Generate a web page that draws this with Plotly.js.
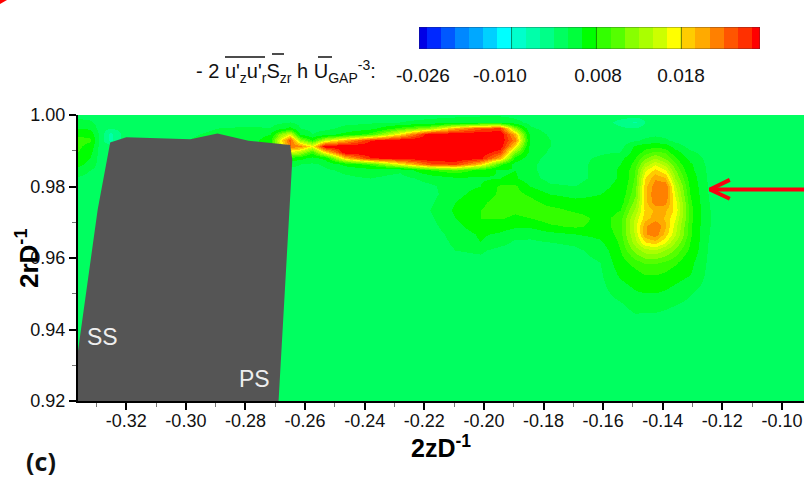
<!DOCTYPE html>
<html><head><meta charset="utf-8">
<script src="https://cdn.plot.ly/plotly-3.0.1.min.js"></script>
<style>html,body{margin:0;padding:0;background:#fff;overflow:hidden}#p{width:804px;height:478px}</style>
</head><body><div id="p"></div>
<script>
// axial position 2z/D
const xCols=[-0.3361,-0.3321,-0.3287,-0.3254,-0.3203,-0.2784,-0.2717,-0.2684,-0.2650,-0.2617,-0.2576,-0.2533,-0.2466,-0.2382,-0.2281,-0.2181,-0.2097,-0.2013,-0.1946,-0.1896,-0.1845,-0.1778,-0.1694,-0.1610,-0.1543,-0.1493,-0.1460,-0.1426,-0.1392,-0.1359,-0.1309,-0.1248,-0.1191,-0.0926];
// radial position 2r/D, top to bottom
const yRows=[1.0,.99805,.99637,.9947,.99302,.99135,.98967,.988,.98632,.98465,.98242,.98018,.97795,.97572,.97349,.97125,.96902,.96679,.96456,.96232,.95897,.95534,.95116,.94697,.94279,.92];
// field values in units of 1e-3, one row per yRows entry
const zRows=[
[1,.7,.5,.5,.5,.5,.5,.5,.6,.6,.5,.5,.5,.6,.8,1,1.2,1.5,1.5,1,.6,.5,.5,.5,.5,.5,.5,.5,.5,.5,.5,.5,.5,.5],
[3,2.5,.5,0,.5,.8,1,1.5,2,1,.7,.7,1,1.5,2,3,4,5,5,3,1,.5,.5,.5,-2,-4.5,-1,.5,.5,.5,.5,.5,.5,.5],
[5,4.5,.5,-1,.5,2.5,2,4,6,2,1,1,3,4,9,13,20,24,25,12,2.5,.8,.5,.5,-.5,-1,.3,.5,.5,.5,.5,.5,.5,.5],
[7.5,7,1,-5,.5,3,5,12,16,5,2,4,6,9,18,28,28,28,28,20,4,1.5,.5,.5,.5,.8,1.2,1.5,1.2,.8,.5,.5,.5,.5],
[9,8.5,1,-5,.5,3.5,7,17,24,13,8,15,20,26,28,28,28,28,28,22,5,2,.5,.5,.5,1.5,2.5,3,2.5,1.2,.5,.5,.5,.5],
[8.5,7,.8,.5,.5,3,7,15,23,22,17,28,28,28,28,28,28,28,28,18,4,2,.5,.7,.8,5.5,7,7.5,7,3.5,1,.6,.5,.5],
[8,6,.5,.5,.5,.5,.5,5,16,14,9,18,28,28,28,28,28,28,25,12,4,1.5,1,1.5,2,6.5,9,10,9.5,6.5,2.5,.8,.5,.5],
[7,5,.5,.5,.5,.5,.5,3,7,6,4,6,19,26,27,28,28,27,20,7,3,1,1,2.5,4,8,11,13,11,8.5,4,1,.5,.5],
[6,4,.5,.5,.5,.5,.5,1,3,2,1.5,2.5,6,9,17,24,25,19,9,4,2.5,1,1,3,5,9,13.5,16,14,10,5.5,1.2,.5,.5],
[4,2,.5,.5,.5,.5,.5,.5,1,1,1,1.5,2.5,3.5,2.5,8,10,7,4.5,5,2.5,1,1,3,5.5,9.7,16,18.5,16.5,11.5,6,1.4,.5,.5],
[1.5,.7,.5,.5,.5,.5,.5,.5,.5,.5,.5,1,1.5,2,1,3,4.5,4.5,5,5.5,3,1,1,3,5.5,10,18,21,20,13,7,1.6,.5,.5],
[.8,.5,.5,.5,.5,.5,.5,.5,.5,.5,.5,.5,.8,1,.5,1.5,3.5,5,8.5,8.5,5,2.5,2,4,6,10.5,19,22.5,23,15,7.5,1.8,.5,.5],
[.5,.5,.5,.5,.5,.5,.5,.5,.5,.5,.5,.5,.5,.5,.5,1,4,6.5,8.5,9,7.5,5,4,5,6.5,11,19,23,23,16,8,2,.5,.5],
[.5,.5,.5,.5,.5,.5,.5,.5,.5,.5,.5,.5,.5,.5,.5,1.5,5,7.5,9,9,9,7,6,6,7,12,19,22.5,22,17,8.5,2.1,.5,.5],
[.5,.5,.5,.5,.5,.5,.5,.5,.5,.5,.5,.5,.5,.5,.5,2,5.5,8,9,8.5,9,9,7.5,6.5,8,13.5,18.5,20,20,17.5,9,2.2,.5,.5],
[.5,.5,.5,.5,.5,.5,.5,.5,.5,.5,.5,.5,.5,.5,.5,1.5,5,8,8.2,7.5,8,9.5,9.5,7,9,15,19,20.5,19.5,16.5,9,2.2,.5,.5],
[.5,.5,.5,.5,.5,.5,.5,.5,.5,.5,.5,.5,.5,.5,.5,1,4,7,6.5,5.5,5.5,7.5,8.5,7,9,15.5,21,23,20,15.5,8.5,2.2,.5,.5],
[.5,.5,.5,.5,.5,.5,.5,.5,.5,.5,.5,.5,.5,.5,.5,.7,3,5.5,4.5,3,2.8,4,5,6,9,15,21,22.5,19,15,8.5,2.1,.5,.5],
[.5,.5,.5,.5,.5,.5,.5,.5,.5,.5,.5,.5,.5,.5,.5,.5,2.5,5,3,1.5,1.5,2,2.5,4.5,8.5,14,18,19,16.5,13,8,2,.5,.5],
[.5,.5,.5,.5,.5,.5,.5,.5,.5,.5,.5,.5,.5,.5,.5,.5,2,2.5,1,1,1,1,1.5,3,8,12,14,14.5,13,11,7.5,1.8,.5,.5],
[.5,.5,.5,.5,.5,.5,.5,.5,.5,.5,.5,.5,.5,.5,.5,.5,.8,1,.5,.5,.5,.5,1,2,7,9,10,10,9.5,8.5,6,1.5,.5,.5],
[.5,.5,.5,.5,.5,.5,.5,.5,.5,.5,.5,.5,.5,.5,.5,.5,.5,.5,.5,.5,.5,.5,.5,1.5,5.5,7,8,8,7.5,6.5,5,1.2,.5,.5],
[.5,.5,.5,.5,.5,.5,.5,.5,.5,.5,.5,.5,.5,.5,.5,.5,.5,.5,.5,.5,.5,.5,.5,1,3.5,5,5.5,5.5,5,4,2.5,.8,.5,.5],
[.5,.5,.5,.5,.5,.5,.5,.5,.5,.5,.5,.5,.5,.5,.5,.5,.5,.5,.5,.5,.5,.5,.5,.5,1.5,3,3,3,2.5,2,1.2,.5,.5,.5],
[.5,.5,.5,.5,.5,.5,.5,.5,.5,.5,.5,.5,.5,.5,.5,.5,.5,.5,.5,.5,.5,.5,.5,.5,.5,1.2,1,1,.8,.6,.5,.5,.5,.5],
[.5,.5,.5,.5,.5,.5,.5,.5,.5,.5,.5,.5,.5,.5,.5,.5,.5,.5,.5,.5,.5,.5,.5,.5,.5,.5,.5,.5,.5,.5,.5,.5,.5,.5]
];
// colour bands: limits in units of 1e-3, and colours
const bandLimits=[-28.7,-26,-23.5,-21,-18.5,-16,-13,-10,-7,-4,-1,2,5,8,9.7,11.3,13,14.7,16.3,18,19.7,21.3,23,24.7,26.3,28];
const bandColors=['#0000e6','#0028ff','#0058ff','#0088ff','#00a8ff','#00d0ff','#00ffff','#00ffcc','#00ffaa','#00ff88','#00ff60','#00ff3c','#00ff00','#33ff00','#55ff00','#88ff00','#aaff00','#ccff00','#ffff00','#ffcc00','#ffaa00','#ff8000','#ff5500','#ff3000','#ff0000'];
const barEdges=[0,.54,1.54,2.54,3.54,4.54,5.54,6.54,7.54,8.54,9.54,10.54,11.54,12.54,13.54,14.54,15.54,16.54,17.54,18.54,19.54,20.54,21.54,22.54,23.54,24.1];
const barLines=[6.54,12.54,18.54];
const barTickPos=[.28,5.72,12.65,18.52];
const barTickText=['-0.026','-0.010','0.008','0.018'];
// axis ticks
const xTicks=[-0.32,-0.30,-0.28,-0.26,-0.24,-0.22,-0.20,-0.18,-0.16,-0.14,-0.12,-0.10];
const xTickText=['-0.32','-0.30','-0.28','-0.26','-0.24','-0.22','-0.20','-0.18','-0.16','-0.14','-0.12','-0.10'];
const yTicks=[0.92,0.94,0.96,0.98,1.00];
const yTickText=['0.92','0.94','0.96','0.98','1.00'];
// blade section outline
const bladeX=[-0.3254,-0.32,-0.2985,-0.2894,-0.2790,-0.2650,-0.2643,-0.2689,-0.3362,-0.3362,-0.3296,-0.3254];
const bladeY=[0.9923,0.9938,0.9932,0.9948,0.9928,0.9916,0.9874,0.92,0.92,0.934,0.9735,0.9923];
// red arrow
const arrowX=[-0.0926,-0.1242,null,-0.1175,-0.1242,-0.1175];
const arrowY=[0.97915,0.97915,null,0.98186,0.97915,0.97656];

const lo=bandLimits[0],hi=bandLimits[bandLimits.length-1];
const cs=[];
bandColors.forEach((c,i)=>{cs.push([(bandLimits[i]-lo)/(hi-lo),c]);cs.push([(bandLimits[i+1]-lo)/(hi-lo),c]);});
const mids=bandColors.map((c,i)=>(bandLimits[i]+bandLimits[i+1])/2);
const W=804,H=478,F='"Liberation Sans",Arial,sans-serif';
const axisFont={family:F,size:18,color:'#111'};

const traces=[
{type:'heatmap',x:xCols,y:yRows.slice().reverse(),z:zRows.slice().reverse(),zsmooth:'best',colorscale:cs,zmin:lo,zmax:hi,showscale:false,hoverinfo:'skip'},
{type:'scatter',mode:'lines',x:bladeX,y:bladeY,fill:'toself',fillcolor:'#555555',line:{width:0,color:'#555555'},hoverinfo:'skip',showlegend:false},
{type:'scatter',mode:'lines',x:arrowX,y:arrowY,line:{color:'#fa0010',width:4},hoverinfo:'skip',showlegend:false},
{type:'heatmap',xaxis:'x2',yaxis:'y2',x:barEdges,y:[0,1],z:[mids],colorscale:cs,zmin:lo,zmax:hi,showscale:false,hoverinfo:'skip'}
];
const shapes=barLines.map(v=>({type:'line',xref:'x2',yref:'y2',x0:v,x1:v,y0:0,y1:1,line:{color:'rgba(0,70,0,0.6)',width:1}}));
shapes.push({type:'rect',xref:'x2',yref:'y2',x0:0,x1:24.1,y0:0,y1:1,line:{color:'rgba(40,40,60,0.6)',width:1}});
[[225,265,57],[272,284,54],[318,332,57]].forEach(b=>shapes.push({type:'line',xref:'paper',yref:'paper',x0:b[0]/W,x1:b[1]/W,y0:1-b[2]/H,y1:1-b[2]/H,line:{color:'#111',width:1.5}}));
shapes.push({type:'path',xref:'paper',yref:'paper',path:'M 0 1 L '+(7/W)+' 1 L 0 '+(1-4/H)+' Z',fillcolor:'#ff0000',line:{width:0}});
const layout={
 width:W,height:H,margin:{l:0,r:0,t:0,b:0},paper_bgcolor:'#fff',plot_bgcolor:'#00ff60',showlegend:false,hovermode:false,
 xaxis:{domain:[78/W,1],range:[-0.3362,-0.0926],tickmode:'array',tickvals:xTicks,ticktext:xTickText,tickfont:axisFont,ticks:'outside',ticklen:7,tickwidth:2,tickcolor:'#000',ticklabelstandoff:-5,showline:true,linecolor:'#000',linewidth:2,showgrid:false,zeroline:false,
  minor:{tickmode:'array',tickvals:[-0.33,-0.31,-0.29,-0.27,-0.25,-0.23,-0.21,-0.19,-0.17,-0.15,-0.13,-0.11],ticks:'outside',ticklen:4,tickwidth:1,tickcolor:'#777',showgrid:false},
  title:{text:'2zD<sup>-1</sup>',font:{family:F,size:25,color:'#000',weight:700},standoff:7}},
 yaxis:{domain:[77/H,363/H],range:[0.92,1.0],tickmode:'array',tickvals:yTicks,ticktext:yTickText,tickfont:axisFont,ticks:'outside',ticklen:7,tickwidth:2,tickcolor:'#000',showline:true,linecolor:'#000',linewidth:2,showgrid:false,zeroline:false,
  minor:{tickmode:'array',tickvals:[0.93,0.95,0.97,0.99],ticks:'outside',ticklen:4,tickwidth:1,tickcolor:'#777',showgrid:false}},
 xaxis2:{domain:[419/W,760/W],anchor:'y2',range:[0,24.1],tickmode:'array',tickvals:barTickPos,ticktext:barTickText,tickfont:{family:F,size:19,color:'#111'},ticks:'outside',ticklen:9,tickcolor:'rgba(0,0,0,0)',showgrid:false,zeroline:false,showline:false},
 yaxis2:{domain:[429/H,451/H],anchor:'x2',range:[0,1],showticklabels:false,ticks:'',showgrid:false,zeroline:false,showline:false},
 shapes:shapes,
 annotations:[
 {xref:'paper',yref:'paper',x:194/W,y:1-72/H,xanchor:'left',yanchor:'middle',showarrow:false,text:"- 2 u'<sub>z</sub>u'<sub>r</sub>S<sub>zr</sub> h U<sub>GAP</sub><sup>-3</sup>:",font:{family:F,size:20,color:'#111'}},
 {xref:'paper',yref:'paper',x:102/W,y:1-337/H,xanchor:'center',yanchor:'middle',showarrow:false,text:'SS',font:{family:F,size:23,color:'#eee'}},
 {xref:'paper',yref:'paper',x:254/W,y:1-379/H,xanchor:'center',yanchor:'middle',showarrow:false,text:'PS',font:{family:F,size:23,color:'#eee'}},
 {xref:'paper',yref:'paper',x:41/W,y:1-461/H,xanchor:'center',yanchor:'middle',width:60,height:36,showarrow:false,text:'<b>(c)</b>',font:{family:'"Open Sans",sans-serif',size:25,color:'#111'}},
 {xref:'paper',yref:'paper',x:27/W,y:1-258/H,xanchor:'center',yanchor:'middle',textangle:-90,showarrow:false,text:'2rD<sup>-1</sup>',font:{family:F,size:26,color:'#000',weight:700}}
 ]
};
Plotly.newPlot('p',traces,layout,{displayModeBar:false,staticPlot:true});
</script></body></html>
